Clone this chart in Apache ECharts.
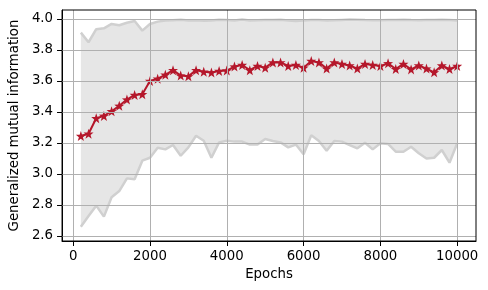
<!DOCTYPE html>
<html><head><meta charset="utf-8">
<script src="https://cdn.jsdelivr.net/npm/echarts@6/dist/echarts.min.js"></script>
<style>html,body{margin:0;padding:0;background:#fff}#c{width:488px;height:290px}</style>
</head><body><div id="c"></div>
<script>
const epochs = [200,400,600,800,1000,1200,1400,1600,1800,2000,2200,2400,2600,2800,3000,3200,3400,3600,3800,4000,4200,4400,4600,4800,5000,5200,5400,5600,5800,6000,6200,6400,6600,6800,7000,7200,7400,7600,7800,8000,8200,8400,8600,8800,9000,9200,9400,9600,9800,10000];
const meanMI = [3.245,3.26,3.36,3.375,3.405,3.44,3.48,3.51,3.515,3.60,3.615,3.64,3.67,3.635,3.63,3.67,3.66,3.655,3.665,3.667,3.693,3.703,3.67,3.697,3.686,3.72,3.72,3.697,3.703,3.686,3.729,3.72,3.68,3.72,3.71,3.70,3.68,3.71,3.703,3.697,3.714,3.677,3.71,3.675,3.70,3.68,3.656,3.70,3.677,3.697];
const upperMI = [3.912,3.85,3.934,3.94,3.968,3.96,3.976,3.987,3.925,3.968,3.983,3.99,3.992,3.995,3.99,3.992,3.988,3.99,3.995,3.993,3.99,3.996,3.99,3.992,3.994,3.993,3.995,3.99,3.987,3.99,3.994,3.993,3.99,3.992,3.994,3.996,3.995,3.993,3.992,3.992,3.994,3.993,3.995,3.993,3.992,3.993,3.994,3.995,3.993,3.99];
const lowerMI = [2.66,2.729,2.796,2.725,2.85,2.89,2.972,2.966,3.086,3.105,3.17,3.159,3.187,3.118,3.172,3.247,3.215,3.105,3.204,3.215,3.209,3.209,3.19,3.19,3.226,3.213,3.204,3.172,3.19,3.127,3.25,3.213,3.15,3.213,3.209,3.187,3.166,3.202,3.159,3.198,3.194,3.144,3.144,3.176,3.134,3.10,3.105,3.155,3.073,3.198];
const xTicks = [0,2000,4000,6000,8000,10000];
const yTicks = [2.6,2.8,3.0,3.2,3.4,3.6,3.8,4.0];

const FONT = 'DejaVu Sans';
const FS = 13.3;
const star = 'path://M0,-10 L2.35,-3.24 L9.51,-3.09 L3.80,1.24 L5.88,8.09 L0,4 L-5.88,8.09 L-3.80,1.24 L-9.51,-3.09 L-2.35,-3.24 Z';

const chart = echarts.init(document.getElementById('c'), null, {renderer:'canvas'});
const pair = (a) => epochs.map((e,i)=>[e,a[i]]);
const bandData = epochs.map((e,i)=>[e, lowerMI[i], upperMI[i]]);

function renderBand(params, api){
  if (params.dataIndex !== 0) return null;
  const pts = [];
  for (let i=0;i<epochs.length;i++) pts.push(api.coord([epochs[i], upperMI[i]]));
  for (let i=epochs.length-1;i>=0;i--) pts.push(api.coord([epochs[i], lowerMI[i]]));
  return {type:'polygon', shape:{points:pts}, style:{fill:'#e6e6e6', stroke:null}};
}

chart.setOption({
  animation:false,
  grid:{left:62,right:12,top:10,bottom:49,show:false},
  xAxis:{type:'value',min:-290,max:10490,
    name:'Epochs',nameLocation:'middle',nameGap:25,
    nameTextStyle:{fontFamily:FONT,fontSize:FS,color:'#000'},
    axisLine:{show:true,onZero:false,lineStyle:{color:'#000',width:1}},
    axisTick:{show:true,customValues:xTicks,length:5,lineStyle:{color:'#000'}},
    axisLabel:{customValues:xTicks,margin:9,fontFamily:FONT,fontSize:FS,color:'#000',formatter:v=>String(v)},
    splitLine:{show:false}},
  yAxis:{type:'value',min:2.568,max:4.058,
    name:'Generalized mutual information',nameLocation:'middle',nameGap:41,
    nameTextStyle:{fontFamily:FONT,fontSize:FS,color:'#000'},
    axisLine:{show:true,onZero:false,lineStyle:{color:'#000',width:1}},
    axisTick:{show:true,customValues:yTicks,length:5,lineStyle:{color:'#000'}},
    axisLabel:{customValues:yTicks,margin:9,fontFamily:FONT,fontSize:FS,color:'#000',formatter:v=>v.toFixed(1)},
    splitLine:{show:false}},
  series:[
    {type:'custom',data:bandData,renderItem:renderBand,encode:{x:0,y:[1,2]},silent:true,z:1,clip:true},
    {type:'line',data:pair(lowerMI),symbol:'none',lineStyle:{color:'#d0d0d0',width:2.5},z:2},
    {type:'line',data:pair(upperMI),symbol:'none',lineStyle:{color:'#d0d0d0',width:2.5},z:2},
    {type:'line',data:pair(meanMI),symbol:'none',lineStyle:{opacity:0},z:3,silent:true,
      markLine:{silent:true,symbol:'none',animation:false,label:{show:false},
        lineStyle:{color:'#b0b0b0',type:'solid',width:1},
        data:[...xTicks.map(v=>({xAxis:v})), ...yTicks.map(v=>({yAxis:v}))]}},
    {type:'line',data:pair(meanMI),symbol:star,symbolSize:10,itemStyle:{color:'#b5172b'},lineStyle:{color:'#b5172b',width:2},z:4}
  ]
});
// frame around the plot area, from the grid's own rectangle
const g = chart.getModel().getComponent('grid').coordinateSystem.getRect();
chart.setOption({graphic:[{type:'rect',shape:{x:g.x,y:g.y,width:g.width,height:g.height},style:{fill:null,stroke:'#000',lineWidth:1},z:10,silent:true}]});
</script></body></html>
